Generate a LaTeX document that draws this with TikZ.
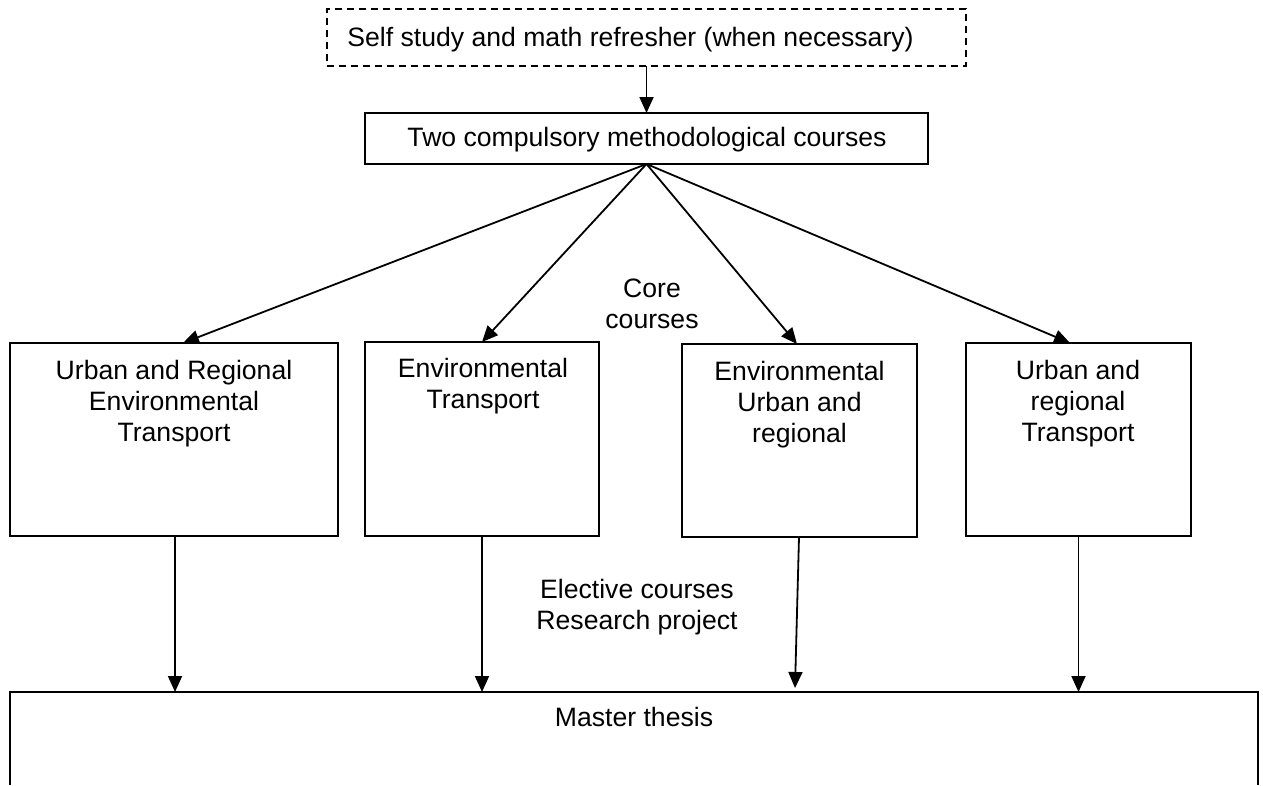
\documentclass[tikz,border=0pt]{standalone}
\usepackage{fontspec}
\setmainfont{Liberation Sans}
\usetikzlibrary{arrows.meta,calc}
\begin{document}
\begin{tikzpicture}[x=1pt,y=-1pt,
  txt/.style={font=\fontsize{26.6}{31}\selectfont, align=center, inner sep=0pt, anchor=base},
  box/.style={draw, line width=1.9pt, inner sep=0pt, outer sep=0pt},
  arr/.style={line width=1.8pt, -{Triangle[length=16pt,width=14pt]}}
]
\useasboundingbox (0,0) rectangle (1263,785);
% top boxes
\node[box, dash pattern=on 7pt off 5pt, line width=1.6pt, minimum width=639pt, minimum height=57pt] (self) at (646.5,37.5) {};
\node[txt] (selft) at (630.5,46.5) {Self study and math refresher (when necessary)};
\node[box, minimum width=563pt, minimum height=51pt] (comp) at (646.5,138.5) {};
\node[txt] (compt) at (647,146) {Two compulsory methodological courses};
% core boxes
\node[box, minimum width=328pt, minimum height=193pt] (b1) at (174,439.5) {};
\node[box, minimum width=234pt, minimum height=194pt] (b2) at (482,439) {};
\node[box, line width=2.8pt, minimum width=235pt, minimum height=193pt] (b3) at (799.5,440.5) {};
\node[box, minimum width=225pt, minimum height=193pt] (b4) at (1078.5,439.5) {};
\node[txt] (b1t) at (174,441) {Urban and Regional\\Environmental\\Transport};
\node[txt] (b2t) at (483,408) {Environmental\\Transport};
\node[txt] (b3t) at (799.5,442) {Environmental\\Urban and\\regional};
\node[txt] (b4t) at (1078,441) {Urban and\\regional\\Transport};
% free labels
\node[txt] (core) at (652,328) {Core\\courses};
\node[txt] (elec) at (637,629) {Elective courses\\Research project};
% master thesis (open at the bottom)
\coordinate (mL) at (10,692);
\coordinate (mR) at (1258,692);
\coordinate (mLb) at (10,785);
\coordinate (mRb) at (1258,785);
\draw[line width=2.6pt] (mLb) -- (mL) -- (mR) -- (mRb);
\node[txt] (mt) at (634,726) {Master thesis};
% connectors
\draw[arr] (self.south) -- (comp.north);
\draw[arr] (comp.south) -- ([xshift=9pt]b1.north);
\draw[arr] (comp.south) -- (b2.north);
\draw[arr] (comp.south) -- ([xshift=-2.5pt]b3.north);
\draw[arr] (comp.south) -- ([xshift=-8.5pt]b4.north);
\draw[arr] ([xshift=1pt]b1.south) -- ([xshift=1pt]b1.south |- mL);
\draw[arr] (b2.south) -- (b2.south |- mL);
\coordinate (m3) at (795,688);
\draw[arr] ([xshift=-0.5pt]b3.south) -- (m3);
\draw[arr] (b4.south) -- (b4.south |- mL);
\end{tikzpicture}
\end{document}
